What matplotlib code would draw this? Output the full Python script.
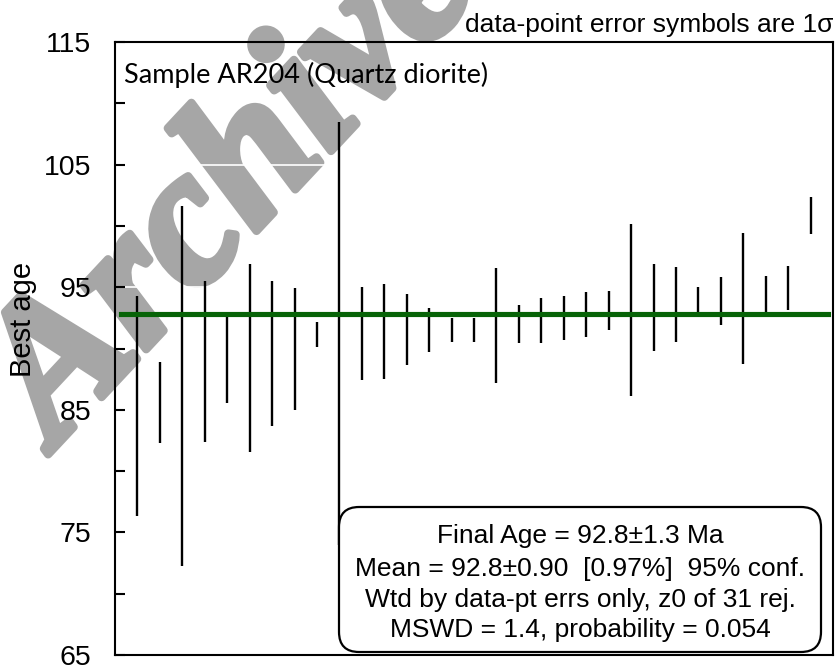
import numpy as np
import matplotlib
matplotlib.use("Agg")
import matplotlib.pyplot as plt
import matplotlib.patheffects as pe
from matplotlib.patches import FancyBboxPatch

# =====================================
# Datos (edades y errores 1 sigma, en orden de rango)
# =====================================
edades = [85.31, 85.62, 86.97, 88.96, 89.07, 89.20, 89.61, 89.95, 91.17, 91.20,
          91.21, 91.38, 91.54, 91.54, 91.53, 91.53, 91.88, 91.99, 92.26, 92.51,
          92.77, 93.10, 93.14, 93.36, 93.61, 93.97, 93.89, 94.06, 94.41, 94.95,
          100.85]
errores = [8.97, 3.30, 14.69, 6.56, 3.54, 7.67, 5.91, 4.97, 1.02, 17.25,
           3.78, 3.87, 2.89, 1.80, 0.98, 0.98, 4.72, 1.57, 1.84, 1.81,
           1.81, 1.59, 6.99, 3.54, 3.06, 1.07, 1.97, 5.35, 1.54, 1.81,
           1.54]
edad_media = 92.8
y_ticks = [65, 75, 85, 95, 105, 115]

lineas_caja = ["Final Age = 92.8\u00b11.3 Ma",
               "Mean = 92.8\u00b10.90  [0.97%]  95% conf.",
               "Wtd by data-pt errs only, z0 of 31 rej.",
               "MSWD = 1.4, probability = 0.054"]

# =====================================
# Figura
# =====================================
plt.rcParams['font.family'] = ['Liberation Sans', 'DejaVu Sans']

fig = plt.figure(figsize=(8.35, 6.65), dpi=100)
fig.patch.set_facecolor('white')
ax = fig.add_axes([115 / 835, 10 / 665, 718 / 835, 613 / 665])
ax.set_facecolor('none')

# marca de agua detras de todo
GRIS_MARCA = '#a6a6a6'
fig.text(55 / 835, 1 - 447 / 665, "Archive", family='Liberation Serif',
         weight='bold', style='italic', fontsize=140, color=GRIS_MARCA,
         rotation=47, rotation_mode='anchor', ha='left', va='baseline',
         zorder=-1,
         path_effects=[pe.Stroke(linewidth=6, foreground=GRIS_MARCA),
                       pe.Normal()])

x = np.arange(1, len(edades) + 1)
ax.errorbar(x, edades, yerr=errores, fmt='none', ecolor='black',
            elinewidth=1.7, capsize=0, zorder=2)
ax.axhline(edad_media, xmin=0.008, xmax=0.993, color='#076307',
           linewidth=3.7, zorder=3)

ax.set_xlim(0, len(edades) + 1)
ax.set_ylim(min(y_ticks), max(y_ticks))
ax.set_yticks(y_ticks)
ax.set_yticks(np.arange(70, 115, 10), minor=True)
ax.set_xticks([])
ax.tick_params(axis='y', which='both', direction='in', length=7, width=1.5,
               labelsize=20.5, pad=17)
ax.set_axisbelow(True)
ax.grid(True, axis='y', which='major', color='white', linewidth=1.2)
for sp in ax.spines.values():
    sp.set_linewidth(1.5)

fig.text(23 / 835, 1 - 319 / 665, "Best age", rotation=90, fontsize=21,
         ha='center', va='center')
fig.text(833 / 835, 1 - 32 / 665, "data-point error symbols are 1\u03c3",
         fontsize=19, ha='right', va='baseline')
ax.text(0.013, 1 - 41 / 613, "Sample AR204 (Quartz diorite)", family='Lato',
        fontsize=19.5, transform=ax.transAxes, ha='left', va='baseline',
        zorder=5)

# caja de resultados
x0, x1 = (339 - 115) / 718, (821 - 115) / 718
y0, y1 = 3 / 613, 148 / 613
caja = FancyBboxPatch((x0, y0), x1 - x0, y1 - y0,
                      boxstyle='round,pad=0,rounding_size=0.028',
                      mutation_aspect=718 / 613, transform=ax.transAxes,
                      facecolor='white', edgecolor='black', linewidth=1.6,
                      zorder=4, clip_on=False)
ax.add_patch(caja)
baselines = [543, 575.7, 606.7, 636.7]
for linea, yb in zip(lineas_caja, baselines):
    ax.text((x0 + x1) / 2, (655 - yb) / 613, linea, fontsize=19,
            transform=ax.transAxes, ha='center', va='baseline', zorder=5)

fig.savefig('out.png', dpi=100)
